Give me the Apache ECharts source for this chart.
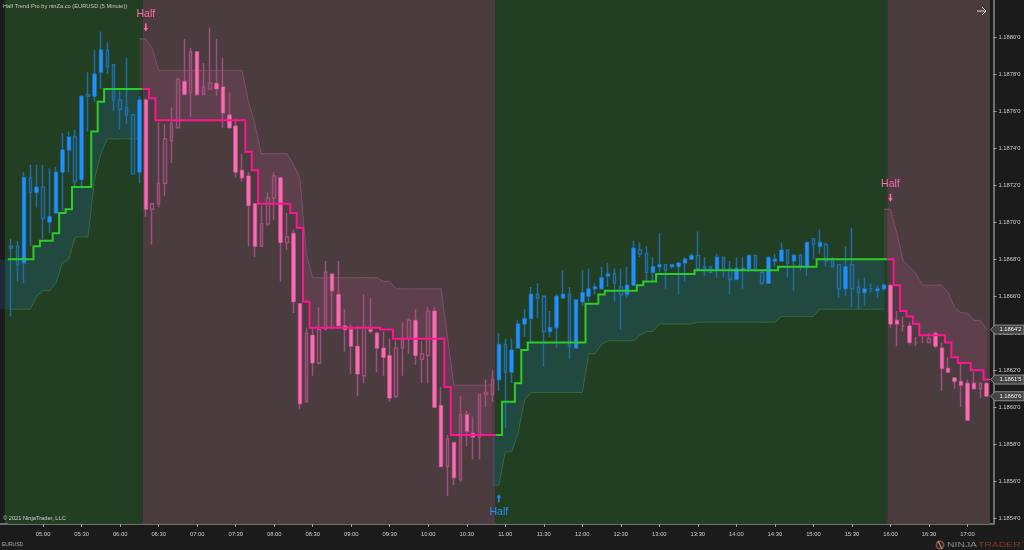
<!DOCTYPE html>
<html>
<head>
<meta charset="utf-8">
<style>html,body{margin:0;padding:0;background:#1b1b1b}#c{width:1024px;height:550px}</style>
<script src="https://cdn.jsdelivr.net/npm/echarts@6/dist/echarts.min.js"></script>
</head>
<body>
<div id="c"></div>
<script>
// ---- data ----
const tickLabels = ['05:00','05:30','06:00','06:30','07:00','07:30','08:00','08:30','09:00','09:30','10:00','10:30','11:00','11:30','12:00','12:30','13:00','13:30','14:00','14:30','15:00','15:30','16:00','16:30','17:00'];
const priceTicks = [1.1854,1.1856,1.1858,1.186,1.1862,1.1864,1.1866,1.1868,1.187,1.1872,1.1874,1.1876,1.1878,1.188];
const opens = [1.18687,1.18687,1.18678,1.18724,1.18716,1.18719,1.18700,1.18705,1.18727,1.18739,
1.18746,1.18723,1.18769,1.18768,1.18781,1.18793,1.18785,1.18766,1.18762,1.18758,
1.18727,1.18766,1.18707,1.18710,1.18721,1.18744,1.18751,1.18776,1.18770,1.18792,
1.18769,1.18772,1.18775,1.18773,1.18758,1.18752,1.18728,1.18725,1.18710,1.18687,
1.18699,1.18713,1.18724,1.18689,1.18694,1.18656,1.18603,1.18639,1.18624,1.18642,
1.18672,1.18661,1.18644,1.18642,1.18633,1.18617,1.18642,1.18640,1.18632,1.18628,
1.18606,1.18632,1.18637,1.18647,1.18626,1.18628,1.18652,1.18601,1.18568,1.18581,
1.18561,1.18596,1.18586,1.18584,1.18607,1.18607,1.18615,1.18634,1.18619,1.18632,
1.18645,1.18648,1.18661,1.18660,1.18641,1.18643,1.18659,1.18661,1.18632,1.18657,
1.18660,1.18664,1.18664,1.18671,1.18672,1.18665,1.18661,1.18666,1.18685,1.18683,
1.18673,1.18676,1.18677,1.18676,1.18676,1.18678,1.18680,1.18682,1.18676,1.18676,
1.18674,1.18681,1.18675,1.18669,1.18674,1.18675,1.18682,1.18673,1.18667,1.18679,
1.18679,1.18685,1.18679,1.18682,1.18676,1.18691,1.18687,1.18688,1.18680,1.18677,
1.18664,1.18677,1.18665,1.18662,1.18664,1.18663,1.18664,1.18666,1.18647,1.18644,
1.18644,1.18635,1.18635,1.18635,1.18640,1.18632,1.18621,1.18616,1.18614,1.18613,
1.18613,1.18610,1.18613];
const closes = [1.18686,1.18677,1.18724,1.18716,1.18719,1.18702,1.18703,1.18727,1.18739,1.18746,
1.18722,1.18768,1.18768,1.18780,1.18793,1.18784,1.18766,1.18761,1.18758,1.18726,
1.18766,1.18707,1.18710,1.18721,1.18745,1.18753,1.18777,1.18769,1.18792,1.18769,
1.18773,1.18775,1.18772,1.18759,1.18751,1.18727,1.18724,1.18709,1.18687,1.18699,
1.18713,1.18725,1.18689,1.18692,1.18657,1.18602,1.18640,1.18624,1.18642,1.18673,
1.18663,1.18644,1.18642,1.18633,1.18618,1.18643,1.18641,1.18632,1.18627,1.18605,
1.18632,1.18637,1.18647,1.18628,1.18629,1.18652,1.18600,1.18568,1.18583,1.18562,
1.18596,1.18587,1.18584,1.18607,1.18608,1.18615,1.18634,1.18619,1.18631,1.18645,
1.18648,1.18661,1.18659,1.18641,1.18643,1.18660,1.18661,1.18633,1.18658,1.18662,
1.18664,1.18665,1.18670,1.18672,1.18667,1.18661,1.18666,1.18686,1.18683,1.18673,
1.18676,1.18677,1.18674,1.18677,1.18678,1.18680,1.18682,1.18675,1.18675,1.18673,
1.18681,1.18674,1.18669,1.18675,1.18675,1.18682,1.18674,1.18667,1.18681,1.18680,
1.18685,1.18678,1.18682,1.18676,1.18689,1.18688,1.18689,1.18679,1.18676,1.18664,
1.18676,1.18664,1.18662,1.18664,1.18664,1.18664,1.18666,1.18645,1.18645,1.18644,
1.18635,1.18635,1.18635,1.18637,1.18633,1.18621,1.18619,1.18614,1.18612,1.18593,
1.18610,1.18613,1.18606];
const highs = [1.18691,1.18690,1.18727,1.18731,1.18731,1.18731,1.18729,1.18730,1.18748,1.18749,
1.18750,1.18768,1.18781,1.18793,1.18803,1.18797,1.18785,1.18771,1.18789,1.18758,
1.18768,1.18767,1.18710,1.18754,1.18753,1.18762,1.18778,1.18799,1.18794,1.18792,
1.18786,1.18805,1.18799,1.18789,1.18770,1.18756,1.18737,1.18727,1.18710,1.18709,
1.18716,1.18727,1.18724,1.18705,1.18696,1.18656,1.18643,1.18643,1.18654,1.18679,
1.18672,1.18679,1.18653,1.18645,1.18644,1.18661,1.18659,1.18641,1.18641,1.18637,
1.18636,1.18646,1.18648,1.18653,1.18636,1.18654,1.18654,1.18611,1.18585,1.18581,
1.18606,1.18598,1.18595,1.18607,1.18615,1.18620,1.18640,1.18637,1.18637,1.18647,
1.18653,1.18665,1.18667,1.18660,1.18652,1.18661,1.18674,1.18665,1.18658,1.18674,
1.18675,1.18667,1.18676,1.18678,1.18675,1.18675,1.18676,1.18690,1.18689,1.18687,
1.18681,1.18694,1.18677,1.18677,1.18678,1.18681,1.18683,1.18695,1.18681,1.18676,
1.18683,1.18681,1.18679,1.18681,1.18681,1.18682,1.18682,1.18674,1.18681,1.18683,
1.18689,1.18685,1.18683,1.18683,1.18689,1.18691,1.18696,1.18689,1.18681,1.18677,
1.18687,1.18697,1.18669,1.18670,1.18667,1.18666,1.18667,1.18666,1.18652,1.18649,
1.18646,1.18638,1.18639,1.18640,1.18641,1.18635,1.18627,1.18616,1.18624,1.18615,
1.18619,1.18613,1.18613];
const lows = [1.18649,1.18668,1.18667,1.18687,1.18708,1.18691,1.18694,1.18705,1.18706,1.18727,
1.18719,1.18718,1.18749,1.18765,1.18772,1.18780,1.18760,1.18750,1.18753,1.18726,
1.18721,1.18703,1.18688,1.18708,1.18714,1.18732,1.18751,1.18769,1.18757,1.18768,
1.18769,1.18772,1.18768,1.18751,1.18751,1.18724,1.18722,1.18687,1.18681,1.18687,
1.18698,1.18701,1.18668,1.18685,1.18651,1.18599,1.18603,1.18617,1.18623,1.18642,
1.18642,1.18644,1.18630,1.18618,1.18606,1.18613,1.18640,1.18619,1.18617,1.18603,
1.18605,1.18617,1.18629,1.18623,1.18613,1.18613,1.18600,1.18568,1.18552,1.18558,
1.18560,1.18579,1.18572,1.18572,1.18600,1.18603,1.18609,1.18589,1.18613,1.18632,
1.18638,1.18635,1.18648,1.18622,1.18638,1.18632,1.18659,1.18626,1.18632,1.18655,
1.18657,1.18661,1.18664,1.18665,1.18657,1.18642,1.18659,1.18666,1.18681,1.18668,
1.18668,1.18673,1.18664,1.18675,1.18661,1.18668,1.18680,1.18674,1.18671,1.18672,
1.18670,1.18670,1.18661,1.18669,1.18664,1.18673,1.18673,1.18666,1.18667,1.18676,
1.18679,1.18670,1.18663,1.18674,1.18671,1.18680,1.18683,1.18676,1.18676,1.18659,
1.18660,1.18654,1.18653,1.18655,1.18662,1.18659,1.18663,1.18643,1.18633,1.18641,
1.18634,1.18633,1.18635,1.18635,1.18632,1.18609,1.18619,1.18610,1.18600,1.18593,
1.18610,1.18605,1.18606];
const trendLevels = [1.18680,1.18680,1.18680,1.18680,1.18687,1.18690,1.18690,1.18694,1.18705,1.18707,
1.18719,1.18719,1.18719,1.18749,1.18765,1.18772,1.18772,1.18772,1.18772,1.18772,
1.18772,1.18772,1.18767,1.18755,1.18755,1.18755,1.18755,1.18755,1.18755,1.18755,
1.18755,1.18755,1.18755,1.18755,1.18755,1.18755,1.18755,1.18738,1.18728,1.18710,
1.18710,1.18710,1.18710,1.18710,1.18705,1.18697,1.18657,1.18643,1.18643,1.18643,
1.18643,1.18643,1.18643,1.18643,1.18643,1.18643,1.18643,1.18643,1.18642,1.18642,
1.18637,1.18637,1.18637,1.18637,1.18637,1.18637,1.18637,1.18637,1.18611,1.18585,
1.18585,1.18585,1.18585,1.18585,1.18585,1.18585,1.18585,1.18603,1.18603,1.18613,
1.18631,1.18635,1.18635,1.18635,1.18635,1.18635,1.18635,1.18635,1.18635,1.18635,
1.18656,1.18656,1.18661,1.18663,1.18663,1.18663,1.18663,1.18663,1.18666,1.18668,
1.18668,1.18672,1.18672,1.18672,1.18672,1.18672,1.18672,1.18674,1.18674,1.18674,
1.18674,1.18674,1.18674,1.18674,1.18674,1.18674,1.18674,1.18674,1.18674,1.18674,
1.18676,1.18676,1.18676,1.18676,1.18676,1.18676,1.18680,1.18680,1.18680,1.18680,
1.18680,1.18680,1.18680,1.18680,1.18680,1.18680,1.18680,1.18680,1.18666,1.18652,
1.18649,1.18645,1.18639,1.18639,1.18639,1.18639,1.18635,1.18627,1.18624,1.18624,
1.18620,1.18620,1.18615];
const lowerBand = [1.18653,1.18653,1.18653,1.18653,1.18660,1.18663,1.18663,1.18667,1.18678,1.18680,
1.18692,1.18692,1.18692,1.18723,1.18737,1.18745,1.18745,1.18745,1.18745,1.18745,
1.18745,null,null,null,null,null,null,null,null,null,
null,null,null,null,null,null,null,null,null,null,
null,null,null,null,null,null,null,null,null,null,
null,null,null,null,null,null,null,null,null,null,
null,null,null,null,null,null,null,null,null,null,
null,null,null,null,null,1.18558,1.18558,1.18576,1.18576,1.18586,
1.18604,1.18608,1.18608,1.18608,1.18608,1.18608,1.18608,1.18608,1.18608,1.18608,
1.18629,1.18629,1.18634,1.18636,1.18636,1.18636,1.18636,1.18636,1.18639,1.18641,
1.18641,1.18645,1.18645,1.18645,1.18645,1.18645,1.18645,1.18646,1.18646,1.18646,
1.18646,1.18646,1.18646,1.18646,1.18646,1.18646,1.18646,1.18646,1.18646,1.18646,
1.18649,1.18649,1.18649,1.18649,1.18649,1.18649,1.18653,1.18653,1.18653,1.18653,
1.18653,1.18653,1.18653,1.18653,1.18653,1.18653,1.18653,null,null,null,
null,null,null,null,null,null,null,null,null,null,
null,null,null];
const upperBand = [null,null,null,null,null,null,null,null,null,null,
null,null,null,null,null,null,null,null,null,null,
1.18799,1.18799,1.18794,1.18782,1.18782,1.18782,1.18782,1.18782,1.18782,1.18782,
1.18782,1.18782,1.18782,1.18782,1.18782,1.18782,1.18782,1.18765,1.18753,1.18737,
1.18737,1.18737,1.18737,1.18737,1.18731,1.18724,1.18683,1.18670,1.18670,1.18670,
1.18670,1.18670,1.18670,1.18670,1.18670,1.18670,1.18670,1.18670,1.18668,1.18668,
1.18664,1.18664,1.18664,1.18664,1.18664,1.18664,1.18664,1.18664,1.18638,1.18612,
1.18612,1.18612,1.18612,1.18612,1.18612,1.18612,null,null,null,null,
null,null,null,null,null,null,null,null,null,null,
null,null,null,null,null,null,null,null,null,null,
null,null,null,null,null,null,null,null,null,null,
null,null,null,null,null,null,null,null,null,null,
null,null,null,null,null,null,null,null,null,null,
null,null,null,null,null,null,1.18707,1.18707,1.18694,1.18679,
1.18676,1.18672,1.18666,1.18666,1.18666,1.18666,1.18662,1.18654,1.18651,1.18651,
1.18647,1.18647,1.18642];
// first bar, last bar, direction of each trend run
const runStarts = [0,21,76,137];
const runEnds = [20,75,136,152];
const runUp = [1,0,1,0];
const signalBars = [21,76,137];
const signalPrices = [1.18803,1.18553,1.18711];
const signalText = 'Half';
const priceTags = [1.18642,1.18615,1.18606];
const priceTagLabels = ["1.1864'2","1.1861'5","1.1860'6"];
const categories = [];
for (let i = 0, m = 4*60+35; i < opens.length; i++, m += 5) {
  categories.push(String(Math.floor(m/60)).padStart(2,'0') + ':' + String(m%60).padStart(2,'0'));
}
// ---- styles ----
const FONT = '"Liberation Sans", Arial, sans-serif';
const BLUE = '#1e90ff', BLUE_DIM = '#1f6ca6', PINK = '#ff69b4', PINK_DIM = '#a14e7c';
const isUpBar = i => { for (let k = 0; k < runStarts.length; k++) if (i >= runStarts[k] && i <= runEnds[k]) return !!runUp[k]; };
const isFilled = i => isUpBar(i) ? closes[i] > opens[i] : closes[i] < opens[i];

const candleData = opens.map((o,i) => {
  const dim = isUpBar(i) ? BLUE_DIM : PINK_DIM;
  return {value:[o,closes[i],lows[i],highs[i]], itemStyle:{color:'transparent',color0:'transparent',borderColor:dim,borderColor0:dim,borderColorDoji:dim,borderWidth:1.5}};
});
const bodyData = [];
opens.forEach((o,i) => {
  if (!isFilled(i)) { bodyData.push('-'); return; }
  const c = isUpBar(i) ? BLUE : PINK;
  bodyData.push({value:[o,closes[i],Math.min(o,closes[i]),Math.max(o,closes[i])], itemStyle:{color:c,color0:c,borderColor:c,borderColor0:c,borderWidth:0}});
});
const runData = runStarts.map((s,k) => [s,runEnds[k],runUp[k]]);

function zoneItem(params, api) {
  const k = params.dataIndex, cs = params.coordSys, b = api.size([1,0])[0];
  const x0 = k === 0 ? 5 : api.coord([runStarts[k],0])[0] - b/2;
  const x1 = k === runStarts.length-1 ? cs.x+cs.width : api.coord([runEnds[k],0])[0] + b/2;
  return {type:'rect',silent:true,shape:{x:x0,y:cs.y,width:x1-x0,height:cs.height},style:{fill:runUp[k] ? '#233f23' : '#4b3c40'}};
}
function ribbonItem(params, api) {
  const k = params.dataIndex, b = api.size([1,0])[0], up = runUp[k];
  const band = up ? lowerBand : upperBand;
  const a = k === 0 ? 0 : runStarts[k]-1, z = runEnds[k];
  const bandPts = [], stepPts = [];
  for (let i = a; i <= z; i++) bandPts.push(api.coord([i,band[i]]));
  for (let i = z; i >= a; i--) {
    const p = api.coord([i,trendLevels[i]]);
    stepPts.push([i === z ? p[0] : p[0]+b/2, p[1]]);
    stepPts.push([i === a ? p[0] : p[0]-b/2, p[1]]);
  }
  const poly = bandPts.concat(stepPts);
  if (k === 0) { poly.push([0,stepPts[stepPts.length-1][1]]); poly.push([0,bandPts[0][1]]); }
  return {type:'group',silent:true,children:[
    {type:'polygon',shape:{points:poly},style:{fill:up ? 'rgba(30,144,255,0.13)' : 'rgba(255,105,180,0.10)'}},
    {type:'polyline',shape:{points:bandPts},style:{fill:null,stroke:up ? '#2f6b3a' : '#7b5068',lineWidth:1}}
  ]};
}
function trendItem(params, api) {
  const k = params.dataIndex, b = api.size([1,0])[0];
  const pts = [];
  for (let i = runStarts[k]; i <= runEnds[k]; i++) {
    const p = api.coord([i,trendLevels[i]]);
    pts.push([p[0]-b/2,p[1]]); pts.push([p[0]+b/2,p[1]]);
  }
  return {type:'polyline',silent:true,shape:{points:pts},style:{fill:null,stroke:runUp[k] ? '#2ccb2c' : '#ff1493',lineWidth:2,lineJoin:'miter'}};
}
function signalItem(params, api) {
  const i = signalBars[params.dataIndex], p = api.coord([i,signalPrices[params.dataIndex]]);
  const up = isUpBar(i), color = up ? BLUE : PINK, s = up ? 1 : -1, x = p[0], y = p[1];
  return {type:'group',silent:true,children:[
    {type:'text',style:{text:signalText,x:x,y:y+s*17.5,fill:color,font:'10.5px '+FONT,textAlign:'center',textVerticalAlign:'middle'}},
    {type:'line',shape:{x1:x,y1:y+s*2,x2:x,y2:y+s*8},style:{stroke:color,lineWidth:1.6}},
    {type:'polygon',shape:{points:[[x,y],[x-2.2,y+s*3.5],[x+2.2,y+s*3.5]]},style:{fill:color}}
  ]};
}
function tagItem(params, api) {
  const v = priceTags[params.dataIndex], y = api.coord([0,v])[1], cs = params.coordSys, x = cs.x+cs.width;
  return {type:'group',silent:true,children:[
    {type:'polygon',shape:{points:[[x+0.5,y],[x+5,y-4.5],[1024,y-4.5],[1024,y+4.5],[x+5,y+4.5]]},style:{fill:'#444444',stroke:'#8c8c8c',lineWidth:1}},
    {type:'text',style:{text:priceTagLabels[params.dataIndex],x:999.5,y:y+0.3,fill:'#f2f2f2',font:'5.8px '+FONT,textAlign:'left',textVerticalAlign:'middle'}}
  ]};
}

const chart = echarts.init(document.getElementById('c'), null, {renderer:'canvas',width:1024,height:550});
chart.setOption({
  animation:false,
  backgroundColor:'#1b1b1b',
  grid:{left:7.8,right:34.1,top:0,bottom:26},
  tooltip:{show:false},
  xAxis:{type:'category',data:categories,boundaryGap:true,
    axisLine:{show:true,lineStyle:{color:'#6e6e6e',width:2}},
    axisTick:{show:true,alignWithLabel:true,length:3,lineStyle:{color:'#a0a0a0'},interval:(i,v)=>tickLabels.includes(v)},
    axisLabel:{show:true,color:'#cccccc',fontSize:5.8,fontFamily:FONT,margin:7,interval:(i,v)=>tickLabels.includes(v)},
    splitLine:{show:false}},
  yAxis:{type:'value',position:'right',offset:3.6,min:1.18537,max:1.1882,scale:true,
    axisLine:{show:true,lineStyle:{color:'#6e6e6e',width:2}},
    axisTick:{show:true,length:3,lineStyle:{color:'#a0a0a0'},customValues:priceTicks},
    axisLabel:{show:true,color:'#cccccc',fontSize:5.8,fontFamily:FONT,margin:5,hideOverlap:false,customValues:priceTicks,formatter:v=>v.toFixed(4)+"'0"},
    splitLine:{show:false}},
  series:[
    {name:'zones',type:'custom',z:1,data:runData,renderItem:zoneItem,clip:false,silent:true},
    {name:'ribbon',type:'custom',z:2,data:runData,renderItem:ribbonItem,clip:false,silent:true},
    {name:'price',type:'candlestick',z:3,data:candleData,barWidth:3,silent:true},
    {name:'bodies',type:'candlestick',z:4,data:bodyData,barWidth:4,silent:true},
    {name:'trend',type:'custom',z:5,data:runData,renderItem:trendItem,clip:false,silent:true},
    {name:'signals',type:'custom',z:6,data:signalBars.map(b=>[b]),renderItem:signalItem,clip:false,silent:true},
    {name:'tags',type:'custom',z:7,data:priceTags.map(v=>[0,v]),renderItem:tagItem,clip:false,silent:true}
  ],
  graphic:[
    {type:'text',z:20,left:3,top:3,style:{text:'Half Trend Pro by ninZa.co (EURUSD (5 Minute))',fill:'#c4c4c4',font:'5.7px '+FONT}},
    {type:'text',z:20,left:3,top:515,style:{text:'© 2021 NinjaTrader, LLC',fill:'#cfcfcf',font:'5.7px '+FONT}},
    {type:'text',z:20,left:2,top:542,style:{text:'EURUSD',fill:'#b0b0b0',font:'5px '+FONT}},
    {type:'line',z:20,shape:{x1:0,y1:524,x2:8,y2:524},style:{stroke:'#6e6e6e',lineWidth:2}},
    {type:'line',z:20,shape:{x1:990,y1:524,x2:994,y2:524},style:{stroke:'#6e6e6e',lineWidth:2}},
    {type:'polyline',z:20,shape:{points:[[977,11],[986,11]]},style:{fill:null,stroke:'#dcdcdc',lineWidth:1}},
    {type:'polyline',z:20,shape:{points:[[982,7],[986,11],[982,15]]},style:{fill:null,stroke:'#dcdcdc',lineWidth:1}},
    {type:'circle',z:20,shape:{cx:940,cy:545,r:3.6},style:{fill:null,stroke:'#8c4a3c',lineWidth:1.8}},
    {type:'line',z:20,shape:{x1:938,y1:541,x2:942,y2:549},style:{stroke:'#9a9a9a',lineWidth:1.2}},
    {type:'text',z:20,x:947,y:541,scaleX:1.3,style:{text:'NINJA',fill:'#8c8c8c',font:'8px '+FONT}},
    {type:'text',z:20,x:978,y:541,scaleX:1.3,style:{text:'TRADER',fill:'#8a3a2e',font:'8px '+FONT}},
    {type:'text',z:20,x:1021,y:541,style:{text:'®',fill:'#8a3a2e',font:'4px '+FONT}}
  ]
});
</script>
</body>
</html>
